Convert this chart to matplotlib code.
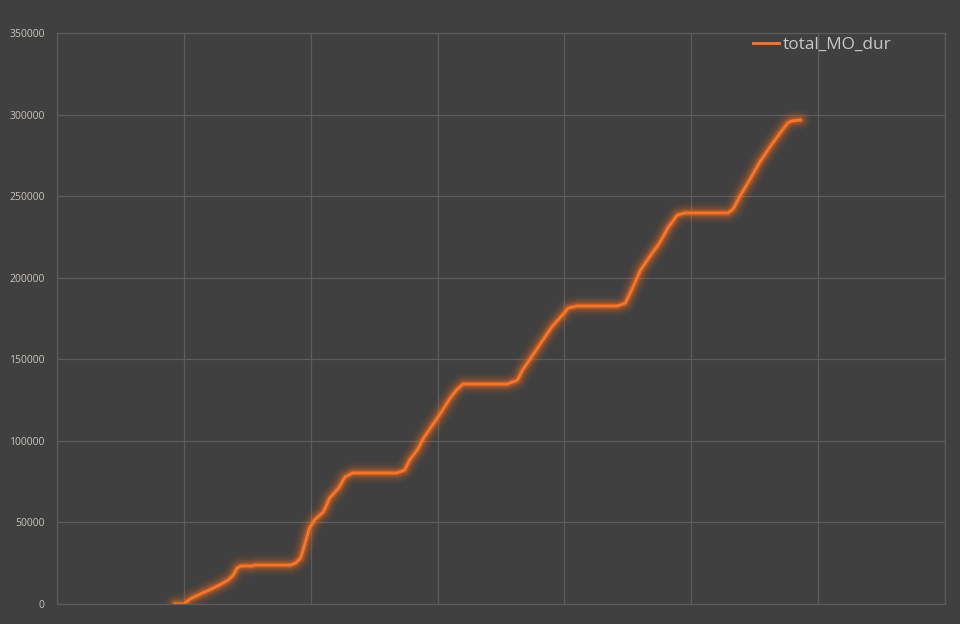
import matplotlib.pyplot as plt
from matplotlib.ticker import MultipleLocator, NullFormatter

# cumulative duration (x in grid units, 7 columns)
x_vals = [0.93, 1.00, 1.05, 1.13, 1.20, 1.28, 1.35, 1.39, 1.42, 1.45, 1.54, 1.56,
          1.84, 1.88, 1.92, 1.94, 1.99, 2.03, 2.10, 2.15, 2.22, 2.27, 2.33,
          2.68, 2.74, 2.78, 2.84, 2.89, 2.96, 3.03, 3.10, 3.15, 3.20,
          3.55, 3.63, 3.67, 3.74, 3.83, 3.90, 3.97, 4.03, 4.10,
          4.42, 4.48, 4.53, 4.60, 4.67, 4.75, 4.82, 4.89, 4.95,
          5.29, 5.33, 5.38, 5.46, 5.54, 5.62, 5.70, 5.76, 5.79, 5.86]
total_MO_dur = [0, 0, 3100, 6100, 8600, 11600, 14700, 17800, 22100, 23300, 23300, 23900,
                23900, 25100, 28200, 33100, 46600, 51500, 56400, 65000, 71100, 77800, 80300,
                80300, 82100, 88300, 94400, 101700, 109700, 117700, 126300, 131200, 134800,
                134800, 137300, 143400, 151400, 161800, 169800, 175900, 181400, 182700,
                182700, 184500, 192500, 204700, 212700, 221300, 231100, 238400, 239700,
                239700, 242100, 249500, 259900, 270900, 280100, 288700, 294800, 296100, 296700]
y_ticks = [0, 50000, 100000, 150000, 200000, 250000, 300000, 350000]

bg = '#404040'
grid_col = '#5c5c5c'
line_col = '#ff7320'

plt.rcParams['font.family'] = ['Open Sans', 'DejaVu Sans']

fig = plt.figure(figsize=(9.6, 6.24), dpi=100, facecolor=bg)
ax = fig.add_axes([57 / 960, 20 / 624, 888 / 960, 571 / 624], facecolor=bg)

# soft glow under the line
for lw, a in [(15, 0.05), (12, 0.07), (9, 0.10), (6.5, 0.16), (4.5, 0.25)]:
    ax.plot(x_vals, total_MO_dur, color=line_col, lw=lw, alpha=a,
            solid_capstyle='round', solid_joinstyle='round')
ax.plot(x_vals, total_MO_dur, color=line_col, lw=2.1, label='total_MO_dur',
        solid_joinstyle='round')

ax.set_xlim(0, 7)
ax.set_ylim(0, 350000)
ax.xaxis.set_major_locator(MultipleLocator(1))
ax.xaxis.set_major_formatter(NullFormatter())
ax.set_yticks(y_ticks)
ax.set_yticklabels([str(v) for v in y_ticks])
ax.tick_params(axis='both', length=0, colors='#c9c4bc', labelsize=7.5)
ax.tick_params(axis='y', pad=9)
ax.grid(True, color=grid_col, lw=0.9)
ax.set_axisbelow(True)
for s in ax.spines.values():
    s.set_color(grid_col)
    s.set_linewidth(0.9)

leg = ax.legend(loc='upper right', bbox_to_anchor=(0.953, 1.014), frameon=False,
                fontsize=12.4, handlelength=1.5, handletextpad=0.2, borderaxespad=0.3)
for t in leg.get_texts():
    t.set_color('#c8c8c8')

fig.savefig('out.png', dpi=100, facecolor=bg)
